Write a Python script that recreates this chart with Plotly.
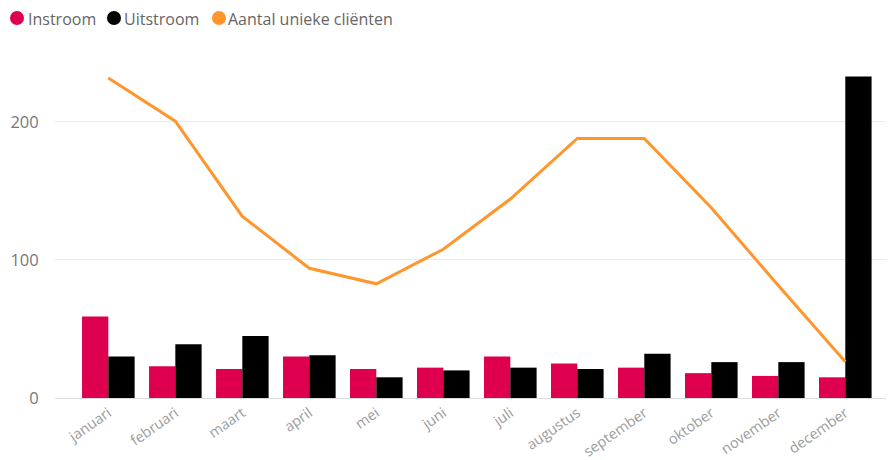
import plotly.graph_objects as go

months = ['januari', 'februari', 'maart', 'april', 'mei', 'juni', 'juli',
          'augustus', 'september', 'oktober', 'november', 'december']
instroom = [59, 23, 21, 30, 21, 22, 30, 25, 22, 18, 16, 15]
uitstroom = [30, 39, 45, 31, 15, 20, 22, 21, 32, 26, 26, 233]
clienten = [185, 160, 105, 75, 66, 86, 115, 150, 150, 110, 65, 21]

legend_names = ['Instroom', 'Uitstroom', 'Aantal unieke cliënten']
colors = ['#DE004F', '#000000', '#FF962D']

# the page body has an 8px margin, so figure px = screen px - 8
W, H = 894, 460
L, R, T, B = 47, 8, 44, 70
PW, PH = W - L - R, H - T - B
FONT = 'Open Sans'


def px(sx):
    return (sx - 8 - L) / PW


def py(sy):
    return (H - B - (sy - 8)) / PH


fig = go.Figure()
fig.add_trace(go.Bar(x=months, y=instroom, name=legend_names[0],
                     marker=dict(color=colors[0], line=dict(width=0)),
                     showlegend=False))
fig.add_trace(go.Bar(x=months, y=uitstroom, name=legend_names[1],
                     marker=dict(color=colors[1], line=dict(width=0)),
                     showlegend=False))
fig.add_trace(go.Scatter(x=months, y=clienten, name=legend_names[2],
                         mode='lines', yaxis='y2',
                         line=dict(color=colors[2], width=3),
                         showlegend=False))

# legend (circles + labels)
leg_circles = [(10, 24), (107, 121), (212, 226)]
leg_text_x = [27, 123, 227]
cy = 18
shapes = []
annotations = []
for (x0, x1), tx, name, col in zip(leg_circles, leg_text_x, legend_names, colors):
    shapes.append(dict(type='circle', xref='paper', yref='paper',
                       x0=px(x0), x1=px(x1), y0=py(cy + 7), y1=py(cy - 7),
                       fillcolor=col, line=dict(width=0)))
    annotations.append(dict(text=name, xref='paper', yref='paper',
                            x=px(tx), y=py(cy + 1), xanchor='left', yanchor='middle',
                            showarrow=False, borderpad=0,
                            font=dict(family=FONT, size=16, color='#666666')))

fig.update_layout(
    width=W, height=H,
    margin=dict(l=L, r=R, t=T, b=B),
    paper_bgcolor='white', plot_bgcolor='white',
    barmode='group', bargap=0.215, bargroupgap=0,
    showlegend=False,
    shapes=shapes, annotations=annotations,
    font=dict(family=FONT),
    xaxis=dict(type='category', range=[-0.796, 11.727],
               tickangle=-35, tickfont=dict(size=14.5, color='#9C9C9C'),
               showgrid=False, showline=True, linecolor='#DCDCDC', linewidth=1,
               ticks='', zeroline=False, automargin=False),
    yaxis=dict(range=[0, 250.7], tickvals=[0, 100, 200],
               tickfont=dict(size=16.5, color='#777777'),
               showgrid=True, gridcolor='#EBEBEB', gridwidth=1,
               zeroline=False, ticks='outside', ticklen=12,
               tickcolor='rgba(0,0,0,0)', showline=False, automargin=False),
    yaxis2=dict(range=[0, 200], overlaying='y', side='right',
                tickvals=[0, 50, 100, 150, 200], showticklabels=False,
                ticks='inside', ticklen=4, tickcolor='#D0D0D0',
                showgrid=False, zeroline=False, showline=False),
)

fig.write_html('out.html')
